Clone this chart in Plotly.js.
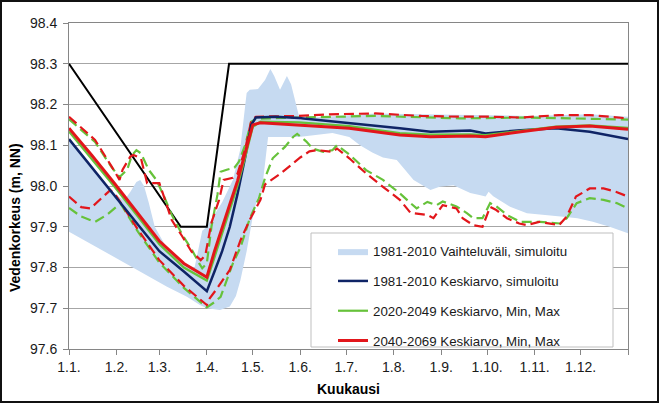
<!DOCTYPE html>
<html>
<head>
<meta charset="utf-8">
<script src="https://cdn.plot.ly/plotly-3.0.1.min.js"></script>
<style>
  html, body { margin: 0; padding: 0; background: #fff; }
  #wrap { position: relative; width: 660px; height: 403px; }
  #chart { width: 660px; height: 403px; }
  #frame { position: absolute; left: 0; top: 0; width: 659px; height: 403px; box-sizing: border-box; border: 2px solid #111; pointer-events: none; }
</style>
</head>
<body>
<div id="wrap"><div id="chart"></div><div id="frame"></div></div>
<script>
// ---- Data (x = day of year, 0 = 1.1.) ----
const monthTicks = [0, 31, 59, 90, 120, 151, 181, 212, 243, 273, 304, 334, 365];
const monthLabels = ['1.1.', '1.2.', '1.3.', '1.4.', '1.5.', '1.6.', '1.7.', '1.8.', '1.9.', '1.10.', '1.11.', '1.12.', ''];

const limitDays = [0, 73, 90, 104.5, 365];
const limitVals = [98.3, 97.9, 97.9, 98.3, 98.3];

const bandLoDays = [0, 32, 64, 77, 85.5, 90, 98.6, 105, 109, 112, 116, 120, 123, 126, 128, 130, 150, 160, 172, 183, 190, 198, 205, 214, 225, 236, 242, 251, 262, 268, 272, 274, 277, 288, 299, 321, 332, 342, 353, 365];
const bandLoVals = [97.888, 97.82, 97.753, 97.728, 97.708, 97.700, 97.696, 97.704, 97.73, 97.77, 97.84, 97.925, 97.97, 97.99, 98.06, 98.12, 98.12, 98.125, 98.13, 98.12, 98.10, 98.082, 98.07, 98.064, 98.015, 97.99, 97.998, 98.002, 97.983, 97.978, 97.974, 97.986, 97.975, 97.949, 97.933, 97.925, 97.921, 97.912, 97.90, 97.884];

const bandHiDays = [0, 17, 30, 36, 40, 44, 46.5, 49, 52, 56, 62, 67, 74, 82, 85, 87, 90, 95, 100, 107, 111.7, 116, 118, 123.4, 128, 131.5, 134, 137.8, 142.3, 145, 148.8, 150.8, 160, 200, 250, 300, 340, 365];
const bandHiVals = [98.115, 98.04, 97.98, 97.965, 97.985, 98.01, 98.015, 98.0, 97.96, 97.9, 97.86, 97.835, 97.81, 97.80, 97.86, 97.89, 97.90, 97.93, 97.96, 98.015, 98.088, 98.228, 98.236, 98.238, 98.26, 98.287, 98.27, 98.236, 98.27, 98.25, 98.195, 98.162, 98.168, 98.178, 98.175, 98.172, 98.176, 98.17];

const blueDays = [0, 15, 30, 45, 59, 75, 90, 95, 100, 105, 110, 115, 119, 122, 135, 150, 183, 216, 236, 262, 272, 295, 318, 340, 365];
const blueMean = [98.115, 98.045, 97.975, 97.905, 97.84, 97.79, 97.742, 97.79, 97.84, 97.9, 97.98, 98.07, 98.15, 98.168, 98.17, 98.167, 98.155, 98.142, 98.133, 98.136, 98.129, 98.137, 98.142, 98.133, 98.115];

const meanDays = [0, 15, 30, 45, 59, 75, 90, 95, 100, 105, 110, 115, 120, 125, 150, 183, 216, 236, 262, 272, 295, 318, 340, 365];
const greenMean = [98.134, 98.066, 97.997, 97.925, 97.857, 97.80, 97.768, 97.825, 97.885, 97.94, 98.0, 98.07, 98.145, 98.158, 98.156, 98.147, 98.13, 98.126, 98.127, 98.125, 98.136, 98.146, 98.149, 98.143];
const redMean = [98.142, 98.075, 98.005, 97.932, 97.865, 97.81, 97.776, 97.84, 97.9, 97.955, 98.012, 98.08, 98.15, 98.155, 98.15, 98.142, 98.125, 98.121, 98.123, 98.121, 98.133, 98.144, 98.147, 98.139];

const greenMaxDays = [0, 17, 28, 33, 38, 41, 44, 47, 52, 57, 62, 67, 74, 80, 85, 87, 90, 93, 97, 99, 103, 108, 111, 115, 119, 122, 150, 200, 255, 300, 365];
const greenMax = [98.164, 98.108, 98.045, 98.022, 98.04, 98.075, 98.088, 98.08, 98.04, 98.015, 97.975, 97.93, 97.88, 97.845, 97.81, 97.798, 97.81, 97.9, 97.98, 98.035, 98.04, 98.045, 98.06, 98.1, 98.158, 98.165, 98.168, 98.172, 98.166, 98.168, 98.163];

const greenMinDays = [0, 8, 17, 25, 31, 34, 45, 59, 75, 90, 95, 99, 107, 112, 118, 124, 128, 133, 141, 146.5, 149, 155, 159, 166, 172, 175, 183.5, 194, 205, 216, 223, 227, 234, 240, 244, 253, 260, 264, 270, 275, 279, 286, 294.5, 307.5, 320.6, 325, 331.5, 340, 349, 357.6, 365];
const greenMin = [97.946, 97.925, 97.912, 97.93, 97.949, 97.955, 97.888, 97.812, 97.75, 97.702, 97.715, 97.728, 97.81, 97.85, 97.92, 97.97, 98.02, 98.068, 98.096, 98.121, 98.128, 98.109, 98.092, 98.084, 98.088, 98.1, 98.076, 98.039, 98.015, 97.982, 97.958, 97.945, 97.961, 97.953, 97.962, 97.95, 97.933, 97.921, 97.921, 97.958, 97.95, 97.929, 97.912, 97.912, 97.908, 97.921, 97.958, 97.97, 97.966, 97.958, 97.945];

const redMaxDays = [0, 17, 28, 33, 35, 40, 42, 47, 51, 59, 62, 67, 74, 80, 86, 89, 93, 98, 101, 107, 110, 115, 119, 122, 150, 170, 200, 230, 255, 275, 295, 320, 340, 365];
const redMax = [98.17, 98.113, 98.047, 98.015, 98.04, 98.072, 98.076, 98.068, 98.007, 98.007, 97.974, 97.917, 97.876, 97.839, 97.818, 97.83, 97.91, 97.966, 98.015, 98.02, 98.03, 98.09, 98.16, 98.17, 98.172, 98.176, 98.178, 98.172, 98.17, 98.17, 98.168, 98.174, 98.174, 98.166];

const redMinDays = [0, 8, 14, 20, 27, 31, 45, 59, 75, 90, 92, 96, 105, 112, 118, 125, 128, 138, 146, 151, 157, 162, 172, 175, 183, 194, 205, 216, 223, 234, 238, 244, 253, 257, 264, 270, 275, 279, 286, 294, 299, 307, 320, 325, 331, 340, 349, 357, 365];
const redMin = [97.974, 97.948, 97.945, 97.965, 97.99, 97.975, 97.893, 97.818, 97.755, 97.708, 97.725, 97.745, 97.794, 97.867, 97.917, 97.966, 98.004, 98.03, 98.056, 98.07, 98.085, 98.088, 98.084, 98.092, 98.068, 98.031, 97.998, 97.966, 97.934, 97.929, 97.921, 97.953, 97.945, 97.921, 97.904, 97.9, 97.949, 97.941, 97.921, 97.908, 97.904, 97.912, 97.904, 97.925, 97.974, 97.994, 97.994, 97.986, 97.974];

// ---- Styling ----
const W = 660, H = 403;
const M = { l: 69, r: 32, t: 23, b: 54 };
const PW = W - M.l - M.r, PH = H - M.t - M.b;
const px2x = px => (px - M.l) / PW;
const py2y = py => (H - M.b - py) / PH;

const FONT = 'Liberation Sans, Arial, sans-serif';
const BLUE = '#0f2466', GREEN = '#66c23a', RED = '#e2161b', BAND = '#c6daf1';
const DASH = '10px,5px';

const traces = [
  { x: bandLoDays, y: bandLoVals, type: 'scatter', mode: 'lines', line: { width: 0, color: BAND },
    showlegend: false, hoverinfo: 'skip', legendgroup: 'band' },
  { x: bandHiDays, y: bandHiVals, type: 'scatter', mode: 'lines', fill: 'tonexty', fillcolor: BAND,
    line: { width: 0, color: BAND }, name: '1981-2010 Vaihteluväli, simuloitu', legendgroup: 'band', legendrank: 1 },
  { x: limitDays, y: limitVals, type: 'scatter', mode: 'lines', line: { color: '#000', width: 2 }, showlegend: false },
  { x: greenMinDays, y: greenMin, type: 'scatter', mode: 'lines', line: { color: GREEN, width: 2.2, dash: DASH }, showlegend: false, legendgroup: 'g' },
  { x: greenMaxDays, y: greenMax, type: 'scatter', mode: 'lines', line: { color: GREEN, width: 2.2, dash: DASH }, showlegend: false, legendgroup: 'g' },
  { x: redMinDays, y: redMin, type: 'scatter', mode: 'lines', line: { color: RED, width: 2.2, dash: DASH }, showlegend: false, legendgroup: 'r' },
  { x: redMaxDays, y: redMax, type: 'scatter', mode: 'lines', line: { color: RED, width: 2.2, dash: DASH }, showlegend: false, legendgroup: 'r' },
  { x: blueDays, y: blueMean, type: 'scatter', mode: 'lines', line: { color: BLUE, width: 2.5 },
    name: '1981-2010 Keskiarvo, simuloitu', legendgroup: 'b', legendrank: 2 },
  { x: meanDays, y: greenMean, type: 'scatter', mode: 'lines', line: { color: GREEN, width: 2.2 },
    name: '2020-2049 Keskiarvo, Min, Max', legendgroup: 'g', legendrank: 3 },
  { x: meanDays, y: redMean, type: 'scatter', mode: 'lines', line: { color: RED, width: 3 },
    name: '2040-2069 Keskiarvo, Min, Max', legendgroup: 'r', legendrank: 4 }
];

const layout = {
  width: W, height: H,
  margin: M,
  paper_bgcolor: '#fff', plot_bgcolor: '#fff',
  font: { family: FONT, size: 14, color: '#1a1a1a' },
  showlegend: true,
  xaxis: {
    range: [0, 365], tickmode: 'array', tickvals: monthTicks, ticktext: monthLabels,
    ticks: 'outside', ticklen: 5, tickcolor: '#868686', showgrid: false, zeroline: false,
    showline: true, linecolor: '#868686', linewidth: 1, mirror: true,
    tickfont: { family: FONT, size: 14, color: '#1a1a1a' },
    title: { text: 'Kuukausi', font: { family: FONT, size: 14, weight: 'bold', color: '#000' }, standoff: 10 }
  },
  yaxis: {
    range: [97.6, 98.4], tick0: 97.6, dtick: 0.1, tickformat: '.1f',
    ticks: 'outside', ticklen: 5, tickcolor: '#868686', ticklabelstandoff: 3,
    showgrid: true, gridcolor: '#a6a6a6', gridwidth: 1, zeroline: false,
    showline: true, linecolor: '#868686', linewidth: 1, mirror: true,
    tickfont: { family: FONT, size: 14, color: '#1a1a1a' }
  },
  shapes: [
    { type: 'rect', xref: 'paper', yref: 'paper', layer: 'above',
      x0: px2x(311), x1: px2x(613), y0: py2y(347), y1: py2y(233),
      fillcolor: '#fff', line: { color: '#bfbfbf', width: 1 } }
  ],
  legend: {
    x: px2x(333), y: py2y(236), xanchor: 'left', yanchor: 'top',
    bgcolor: 'rgba(0,0,0,0)', borderwidth: 0, traceorder: 'grouped', tracegroupgap: 9.5,
    itemwidth: 30, font: { family: FONT, size: 13.3, color: '#1a1a1a' }
  },
  annotations: [
    { text: 'Vedenkorkeus (m, NN)', xref: 'paper', yref: 'paper', x: px2x(15), y: py2y(218),
      xanchor: 'center', yanchor: 'middle', textangle: -90, showarrow: false,
      font: { family: FONT, size: 14, weight: 'bold', color: '#000' } }
  ]
};

Plotly.newPlot('chart', traces, layout, { staticPlot: true, displayModeBar: false });
</script>
</body>
</html>
